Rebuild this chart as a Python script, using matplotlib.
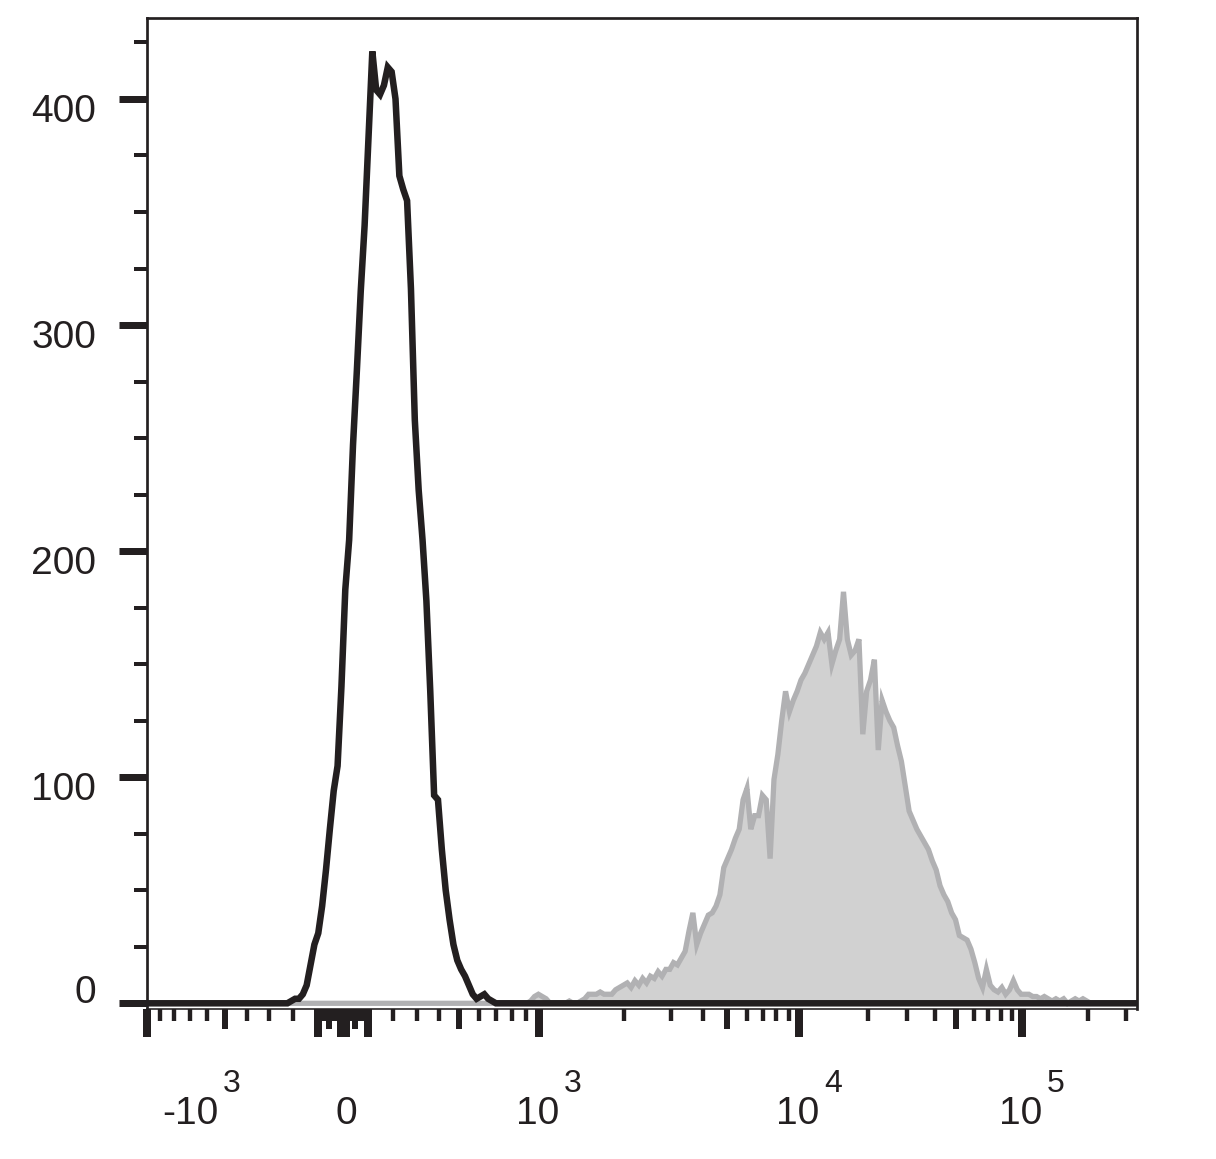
import numpy as np
import matplotlib
matplotlib.use("Agg")
import matplotlib.pyplot as plt

# ---------------- data (histogram channels on a 256-channel biexponential display) ----------------
black_start_channel = 36
black_counts = [0, 1, 2, 2, 4, 8, 17, 26, 31, 43, 59, 77, 94, 105, 140, 183, 205, 247, 280, 315,
                344, 382, 421, 404, 402, 406, 414, 412, 400, 366, 360, 355, 316, 258, 227, 205,
                178, 138, 92, 90, 68, 50, 37, 26, 19, 15, 12, 8, 4, 2, 3, 4, 2, 1, 0]

gray_start_channel = 99
gray_counts = [1, 3, 4, 3, 2, 0, 0, 0, 0, 0, 1, 0, 0, 1, 2, 4, 4, 4, 5, 4,
               4, 4, 6, 7, 8, 9, 7, 10, 8, 11, 9, 12, 11, 14, 12, 15, 15, 18, 17, 20,
               23, 32, 40, 26, 31, 35, 39, 40, 43, 48, 60, 64, 68, 73, 77, 90, 95, 77, 83, 83,
               92, 90, 64, 99, 110, 125, 138, 129, 134, 138, 143, 146, 150, 154, 158, 164, 161, 164, 150, 156,
               161, 182, 161, 154, 156, 161, 119, 138, 143, 152, 112, 134, 129, 125, 122, 114, 107, 96, 85, 81,
               77, 74, 71, 68, 63, 59, 52, 48, 45, 40, 37, 30, 29, 28, 24, 18, 11, 7, 15, 8,
               6, 5, 7, 4, 6, 10, 6, 4, 4, 4, 3, 3, 2, 3, 2, 1, 2, 1, 2, 0,
               1, 2, 1, 2, 1, 0]

y_major = [0, 100, 200, 300, 400]
y_minor = [25, 50, 75, 125, 150, 175, 225, 250, 275, 325, 350, 375, 425]
y_labels = ["0", "100", "200", "300", "400"]

x_long = [-1000, -100, -10, 0, 10, 100, 1000, 10000, 100000]
x_medium = [-500, -50, 50, 500, 5000, 50000]
x_short = [-900, -800, -700, -600, -400, -300, -200,
           -90, -80, -70, -60, -40, -30, -20,
           20, 30, 40, 60, 70, 80, 90,
           200, 300, 400, 600, 700, 800, 900,
           2000, 3000, 4000, 6000, 7000, 8000, 9000,
           20000, 30000, 40000, 60000, 70000, 80000, 90000,
           200000, 300000]
x_label_values = [-1000, 0, 1000, 10000, 100000]
x_label_base = ["-10", "0", "10", "10", "10"]
x_label_exp = ["3", "", "3", "4", "5"]

# ---------------- biexponential (logicle-type) display transform ----------------
N_CH = 256
ZERO_CH = 50.43
CH_PER_UNIT = 24.31
C_SCALE = 71.5
P = 4.2


def ch_to_val(ch):
    u = (np.asarray(ch, dtype=float) - ZERO_CH) / CH_PER_UNIT
    a = np.abs(u)
    v = C_SCALE * (np.exp(a) - P ** 2 * np.exp(-a / P) + P ** 2 - 1)
    return np.sign(u) * v


_grid_ch = np.linspace(-30, 300, 66001)
_grid_val = ch_to_val(_grid_ch)


def val_to_ch(v):
    return np.interp(np.asarray(v, dtype=float), _grid_val, _grid_ch)


channels = np.arange(0, N_CH + 1)
x_vals = ch_to_val(channels)
black_full = np.zeros(len(channels))
black_full[black_start_channel:black_start_channel + len(black_counts)] = black_counts
gray_full = np.zeros(len(channels))
gray_full[gray_start_channel:gray_start_channel + len(gray_counts)] = gray_counts

# ---------------- figure ----------------
plt.rcParams["font.family"] = ["Liberation Sans", "DejaVu Sans"]
W, H, DPI = 1216, 1159, 100
fig = plt.figure(figsize=(W / DPI, H / DPI), dpi=DPI)
PT = 72.0 / DPI  # points per pixel

ax_l, ax_r, ax_t, ax_b = 147, 1137, 18, 1008.5
rect = [ax_l / W, 1 - ax_b / H, (ax_r - ax_l) / W, (ax_b - ax_t) / H]
ax = fig.add_axes(rect)
ink = "#231f20"

xlim = (ch_to_val(0), ch_to_val(N_CH))
ylim = (-2.3, 435.8)

ax.set_xscale("function", functions=(val_to_ch, ch_to_val))
ax.fill_between(x_vals, 0, gray_full, color="#d1d1d1", lw=0, zorder=1)
ax.plot(x_vals, gray_full, color="#b1b1b3", lw=3.8, solid_joinstyle="miter", zorder=2)
ax.plot(x_vals, black_full, color=ink, lw=4.7, solid_joinstyle="miter", zorder=3)
ax.set_xlim(*xlim)
ax.set_ylim(*ylim)

for side in ["left", "top", "right"]:
    ax.spines[side].set_linewidth(2.7 * PT)
    ax.spines[side].set_color(ink)
ax.spines["bottom"].set_linewidth(1.6 * PT)
ax.spines["bottom"].set_color(ink)

ax.set_xticks(x_long)
ax.set_xticks(x_short, minor=True)
ax.set_xticklabels([])
ax.set_xticklabels([], minor=True)
ax.tick_params(axis="x", which="major", direction="out", length=28 * PT, width=8 * PT, color=ink)
ax.tick_params(axis="x", which="minor", direction="out", length=12 * PT, width=4.4 * PT, color=ink)

ax.set_yticks(y_major)
ax.set_yticks(y_minor, minor=True)
ax.set_yticklabels([])
ax.tick_params(axis="y", which="major", direction="out", length=28 * PT, width=7 * PT, color=ink)
ax.tick_params(axis="y", which="minor", direction="out", length=13 * PT, width=4 * PT, color=ink)

# medium-length x ticks on an overlay axes with the same scale
ax2 = fig.add_axes(rect, zorder=ax.get_zorder() - 1)
ax2.set_xscale("function", functions=(val_to_ch, ch_to_val))
ax2.set_xlim(*xlim)
ax2.set_ylim(*ylim)
ax2.patch.set_visible(False)
for s in ax2.spines.values():
    s.set_visible(False)
ax2.set_yticks([])
ax2.set_xticks(x_medium)
ax2.set_xticks([], minor=True)
ax2.set_xticklabels([])
ax2.tick_params(axis="x", which="major", direction="out", length=20 * PT, width=6 * PT, color=ink)

# y tick labels
for val, lab in zip(y_major, y_labels):
    dy = 0 if val == 0 else -23
    ax.annotate(lab, xy=(0, val), xycoords=("axes fraction", "data"),
                xytext=(-51 * PT, dy * PT), textcoords="offset points",
                ha="right", va="baseline", fontsize=28, color=ink)

# x tick labels (base + raised exponent)
for val, base, ex in zip(x_label_values, x_label_base, x_label_exp):
    if ex == "":
        ax.annotate(base, xy=(val, 0), xycoords=("data", "axes fraction"),
                    xytext=(3 * PT, -115.5 * PT), textcoords="offset points",
                    ha="center", va="baseline", fontsize=28, color=ink)
        continue
    shift = 71 if base.startswith("-") else 20
    ax.annotate(base, xy=(val, 0), xycoords=("data", "axes fraction"),
                xytext=(shift * PT, -115.5 * PT), textcoords="offset points",
                ha="right", va="baseline", fontsize=28, color=ink)
    ax.annotate(ex, xy=(val, 0), xycoords=("data", "axes fraction"),
                xytext=((shift + 5) * PT, -83.5 * PT), textcoords="offset points",
                ha="left", va="baseline", fontsize=23, color=ink)

fig.savefig("out.png", dpi=DPI, facecolor="white")
